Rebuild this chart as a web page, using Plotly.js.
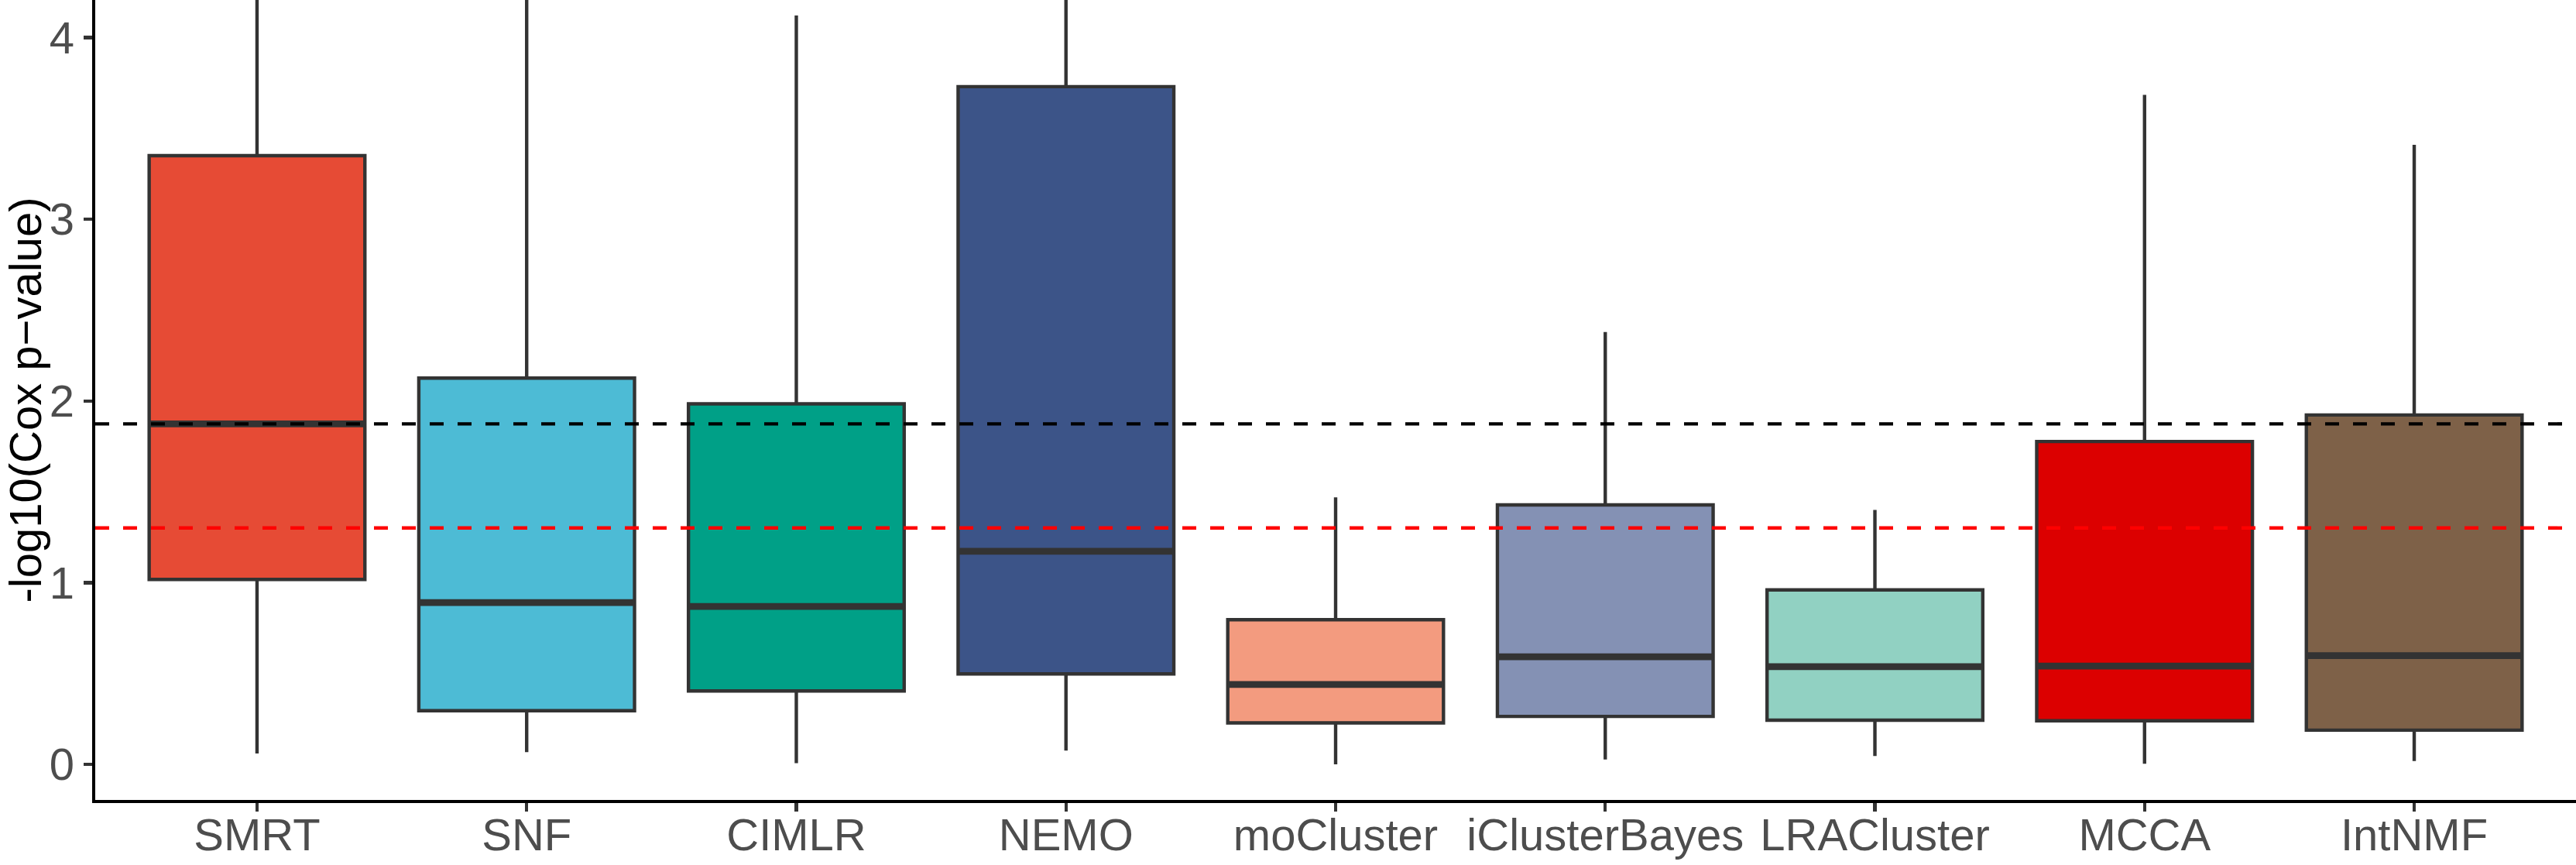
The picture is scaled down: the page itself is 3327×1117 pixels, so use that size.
<!DOCTYPE html>
<html>
<head>
<meta charset="utf-8">
<script src="https://cdn.plot.ly/plotly-3.0.1.min.js"></script>
<style>
  html, body { margin: 0; padding: 0; background: #fff; }
  #chart { width: 3327px; height: 1117px; }
</style>
</head>
<body>
<div id="chart"></div>
<script>
// methods on the x axis
var methods = ['SMRT', 'SNF', 'CIMLR', 'NEMO', 'moCluster', 'iClusterBayes', 'LRACluster', 'MCCA', 'IntNMF'];

// box statistics, -log10(Cox p-value)
var lowerWhisker = [0.060, 0.067, 0.006, 0.076, 0.000, 0.027, 0.046, 0.003, 0.018];
var q1 = [1.018, 0.295, 0.404, 0.498, 0.228, 0.264, 0.243, 0.240, 0.188];
var medians = [1.874, 0.890, 0.869, 1.173, 0.440, 0.592, 0.538, 0.541, 0.598];
var q3 = [3.350, 2.126, 1.984, 3.730, 0.796, 1.428, 0.960, 1.777, 1.923];
// SMRT, SNF and NEMO run past the top of the panel
var upperWhisker = [5.4, 5.2, 4.122, 6.5, 1.470, 2.380, 1.400, 3.685, 3.410];

var fills = ['#E64B35', '#4DBBD5', '#00A087', '#3C5488', '#F39B7F', '#8491B4', '#91D1C2', '#DC0000', '#7E6148'];

// reference lines
var smrtMedian = medians[0];
var pCutoff = -Math.log10(0.05);

var yTicks = [0, 1, 2, 3, 4];

var font = 'Liberation Sans, Arial, Helvetica, sans-serif';
var lw = 4.4;

var data = methods.map(function (m, i) {
  return {
    type: 'box',
    name: m,
    x: [m],
    q1: [q1[i]],
    median: [medians[i]],
    q3: [q3[i]],
    lowerfence: [lowerWhisker[i]],
    upperfence: [upperWhisker[i]],
    width: 0.8,
    whiskerwidth: 0,
    boxpoints: false,
    fillcolor: fills[i],
    line: { color: '#333333', width: lw },
    hoverinfo: 'skip'
  };
});

// thicker median bars, like ggplot's fatten
// line-ew length is 1.4 * size, box is 0.8 of a 348px category step
data.push({
  type: 'scatter',
  mode: 'markers',
  x: methods,
  y: medians,
  marker: {
    symbol: 'line-ew',
    size: 0.8 * 348 / 1.4,
    line: { color: '#333333', width: 8.8 }
  },
  hoverinfo: 'skip'
});

var layout = {
  width: 3327,
  height: 1117,
  showlegend: false,
  paper_bgcolor: '#ffffff',
  plot_bgcolor: '#ffffff',
  margin: { l: 123, r: 0, t: 0, b: 84, pad: 0 },
  font: { family: font, color: '#4D4D4D', size: 58 },
  xaxis: {
    type: 'category',
    range: [-0.6, 8.6],
    showgrid: false,
    zeroline: false,
    showline: true,
    linecolor: '#000000',
    linewidth: lw,
    ticks: 'outside',
    ticklen: 11,
    tickwidth: lw,
    tickcolor: '#333333',
    ticklabelstandoff: -20,
    tickfont: { family: font, size: 58, color: '#4D4D4D' }
  },
  yaxis: {
    range: [-0.196, 4.207],
    tickvals: yTicks,
    showgrid: false,
    zeroline: false,
    showline: true,
    linecolor: '#000000',
    linewidth: lw,
    ticks: 'outside',
    ticklen: 11,
    tickwidth: lw,
    tickcolor: '#333333',
    tickfont: { family: font, size: 58, color: '#4D4D4D' },
    title: {
      text: '-log10(Cox p\u2212value)',
      font: { family: font, size: 58, color: '#000000' },
      standoff: 14
    }
  },
  shapes: [
    {
      type: 'line', xref: 'paper', x0: 0, x1: 1, yref: 'y', y0: smrtMedian, y1: smrtMedian,
      line: { color: '#000000', width: lw, dash: '18px,18px' }
    },
    {
      type: 'line', xref: 'paper', x0: 0, x1: 1, yref: 'y', y0: pCutoff, y1: pCutoff,
      line: { color: '#FF0000', width: lw, dash: '18px,18px' }
    }
  ]
};

Plotly.newPlot('chart', data, layout, { displayModeBar: false, staticPlot: true });
</script>
</body>
</html>
